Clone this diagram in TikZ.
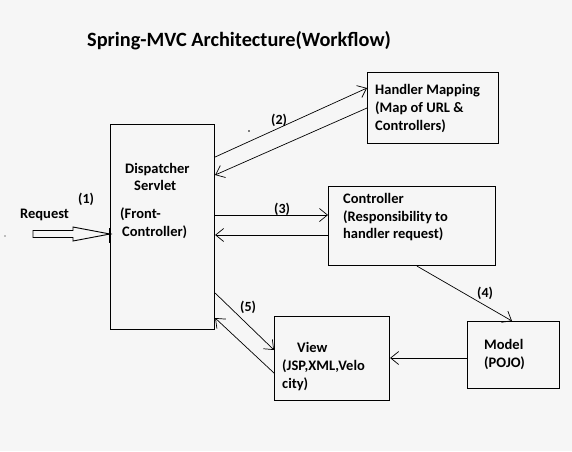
\documentclass[tikz,border=0pt]{standalone}
\usepackage{fontspec}
\setmainfont{Carlito}
\usetikzlibrary{arrows.meta}
\definecolor{bg}{RGB}{246,246,246}
\begin{document}
\begin{tikzpicture}[x=1pt,y=-1pt,
  box/.style={draw,line width=1.1pt,rectangle,inner sep=0pt,anchor=north west},
  txt/.style={font=\fontsize{14.5}{18}\selectfont\bfseries,inner sep=0pt,anchor=base west},
  lab/.style={font=\fontsize{14}{16}\selectfont\bfseries,inner sep=0pt,anchor=base west},
  conn/.style={line width=0.7pt,-{Straight Barb[length=8pt,width=13pt,line width=0.7pt]}},
  every node/.style={inner sep=0pt}]
\fill[bg] (0,0) rectangle (572,451);
\useasboundingbox (0,0) rectangle (572,451);
% title
\node[font=\fontsize{20.3}{24}\selectfont\bfseries,anchor=base west] (title) at (87,46) {Spring-MVC Architecture(Workflow)};
% boxes
\node[box,minimum width=104pt,minimum height=205pt] (disp) at (110,124) {};
\node[box,minimum width=131pt,minimum height=71pt] (hm) at (367,72) {};
\node[box,minimum width=167pt,minimum height=79pt] (ctrl) at (328,186) {};
\node[box,minimum width=115pt,minimum height=84pt] (view) at (274,316) {};
\node[box,minimum width=92pt,minimum height=67pt] (model) at (467,321) {};
% box texts
\node[txt] (d1) at (125,173) {Dispatcher};
\node[txt] (d2) at (134,190) {Servlet};
\node[txt] (d3) at (120,218) {(Front-};
\node[txt] (d4) at (122,236) {Controller)};
\node[txt] (h1) at (375,94) {Handler Mapping};
\node[txt] (h2) at (375,112) {(Map of URL \&};
\node[txt] (h3) at (375,130) {Controllers)};
\node[txt] (c1) at (343,203) {Controller};
\node[txt] (c2) at (343,221) {(Responsibility to};
\node[txt] (c3) at (343,238) {handler request)};
\node[txt] (v1) at (297,352) {View};
\node[txt] (v2) at (282,370) {(JSP,XML,Velo};
\node[txt] (v3) at (282,388) {city)};
\node[txt] (m1) at (484,349) {Model};
\node[txt] (m2) at (484,367) {(POJO)};
% labels
\node[txt] (req) at (20,218) {Request};
\node[lab] (l1) at (78,203) {(1)};
\node[lab] (l2) at (271,124) {(2)};
\node[lab] (l3) at (274,213) {(3)};
\node[lab] (l4) at (477,297) {(4)};
\node[lab] (l5) at (240,311) {(5)};
% request arrow
\coordinate (rtip) at (disp.west |- 0,234);
\draw[line width=0.9pt] (33,230.5) -- (73,230.5) -- (73,227) -- (rtip) -- (73,241) -- (73,237.5) -- (33,237.5) -- cycle;
\draw[line width=2pt] (disp.west |- 0,228) -- (disp.west |- 0,243);
\fill (rtip) circle (1.6pt);
% stray dots
\fill (5,236) circle (0.7pt);
\fill (249,131) circle (0.9pt);
% connectors
\draw[conn] (disp.east |- 0,157) -- (hm.west |- 0,88);
\draw[conn] (hm.west |- 0,108) -- (disp.east |- 0,175);
\draw[conn] (disp.east |- 0,215) -- (ctrl.west |- 0,215);
\draw[conn] (ctrl.west |- 0,235) -- (disp.east |- 0,235);
\draw[conn] (ctrl.south -| 417,0) -- (model.north -| 512,0);
\draw[conn] (model.west |- 0,358) -- (view.east |- 0,358);
\draw[conn] (disp.east |- 0,293) -- (view.west |- 0,350);
\draw[conn] (view.west |- 0,373) -- (disp.east |- 0,318);
\end{tikzpicture}
\end{document}
